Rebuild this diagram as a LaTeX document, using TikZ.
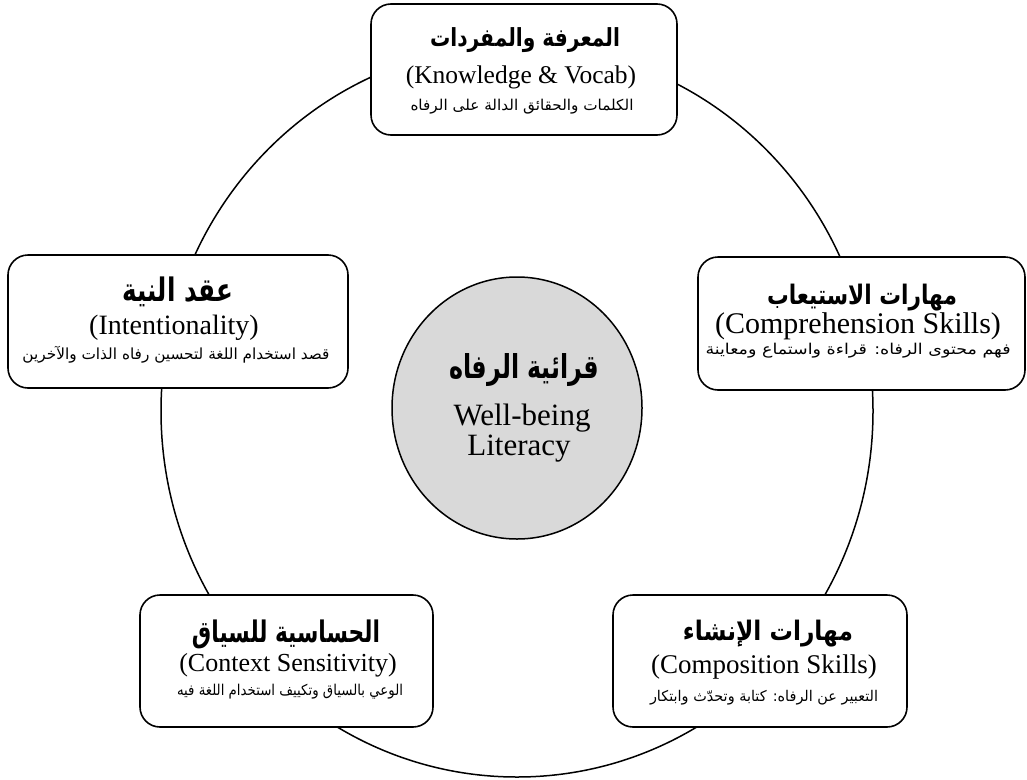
\documentclass[tikz,border=0pt]{standalone}
\usepackage{graphicx}
\usepackage{fontspec}
\setmainfont{Liberation Serif}
\newfontfamily\arabicfont[Script=Arabic]{DejaVu Sans}
\TeXXeTstate=1
\definecolor{centerfill}{RGB}{217,217,217}
\newcommand{\arsub}[3]{\resizebox*{#1pt}{#2pt}{\arabicfont #3}}
\newcommand{\artitle}[3]{\resizebox*{#1pt}{#2pt}{\arabicfont\bfseries #3}}
\tikzset{
  boxnode/.style={draw, line width=1.6pt, rounded corners=20pt, fill=white, inner sep=0pt},
  txt/.style={inner sep=0pt, anchor=center},
  en/.style={txt, font=\fontsize{#1}{#1}\selectfont},
}
\begin{document}
\begin{tikzpicture}[x=1pt, y=-1pt]
\useasboundingbox (0,0) rectangle (1027,779);
% big ring
\draw[line width=1.5pt] (517,411) ellipse [x radius=356, y radius=366];
% boxes
\node[boxnode, minimum width=306pt, minimum height=131pt] (kv) at (524,69.5) {};
\node[boxnode, minimum width=340pt, minimum height=133pt] (in) at (178,321.5) {};
\node[boxnode, minimum width=327pt, minimum height=133pt] (cs) at (861.5,323.5) {};
\node[boxnode, minimum width=293pt, minimum height=132pt] (ct) at (286.5,661) {};
\node[boxnode, minimum width=294pt, minimum height=132pt] (co) at (760,661) {};
% centre
\draw[line width=1.5pt, fill=centerfill] (517,408) ellipse [x radius=125, y radius=131];
\coordinate (ctr) at (517,408);
\node[txt] (ctrT) at (524,370) {\artitle{150}{33}{\beginR قرائية الرفاه\endR}};
\node[en=31] (ctrE1) at (522,418) {Well-being};
\node[en=31] (ctrE2) at (519,449) {Literacy};
% top box
\node[txt] (kvT) at (525,40) {\artitle{190}{25}{\beginR المعرفة والمفردات\endR}};
\node[en=25.5] (kvE) at (521,77) {(Knowledge \& Vocab)};
\node[txt] (kvS) at (522,107) {\arsub{223}{15}{\beginR الكلمات والحقائق الدالة على الرفاه\endR}};
% left box
\node[txt] (inT) at (178,292) {\artitle{110}{30}{\beginR عقد النية\endR}};
\node[en=28] (inE) at (174,328) {(Intentionality)};
\node[txt] (inS) at (176,355) {\arsub{307}{17}{\beginR قصد استخدام اللغة لتحسين رفاه الذات والآخرين\endR}};
% right box
\node[txt] (csT) at (862,298) {\artitle{190}{27}{\beginR مهارات الاستيعاب\endR}};
\node[en=30] (csE) at (858,326) {(Comprehension Skills)};
\node[txt] (csS) at (858,351) {\arsub{305}{15}{\beginR فهم محتوى الرفاه: قراءة واستماع ومعاينة\endR}};
% bottom left
\node[txt] (ctT) at (286,634) {\artitle{188}{29}{\beginR الحساسية للسياق\endR}};
\node[en=26] (ctE) at (288,665) {(Context Sensitivity)};
\node[txt] (ctS) at (290,692) {\arsub{226}{15}{\beginR الوعي بالسياق وتكييف استخدام اللغة فيه\endR}};
% bottom right
\node[txt] (coT) at (768,634) {\artitle{170}{27}{\beginR مهارات الإنشاء\endR}};
\node[en=27] (coE) at (764,667) {(Composition Skills)};
\node[txt] (coS) at (764,698) {\arsub{228}{15}{\beginR التعبير عن الرفاه: كتابة وتحدّث وابتكار\endR}};
\end{tikzpicture}
\end{document}
